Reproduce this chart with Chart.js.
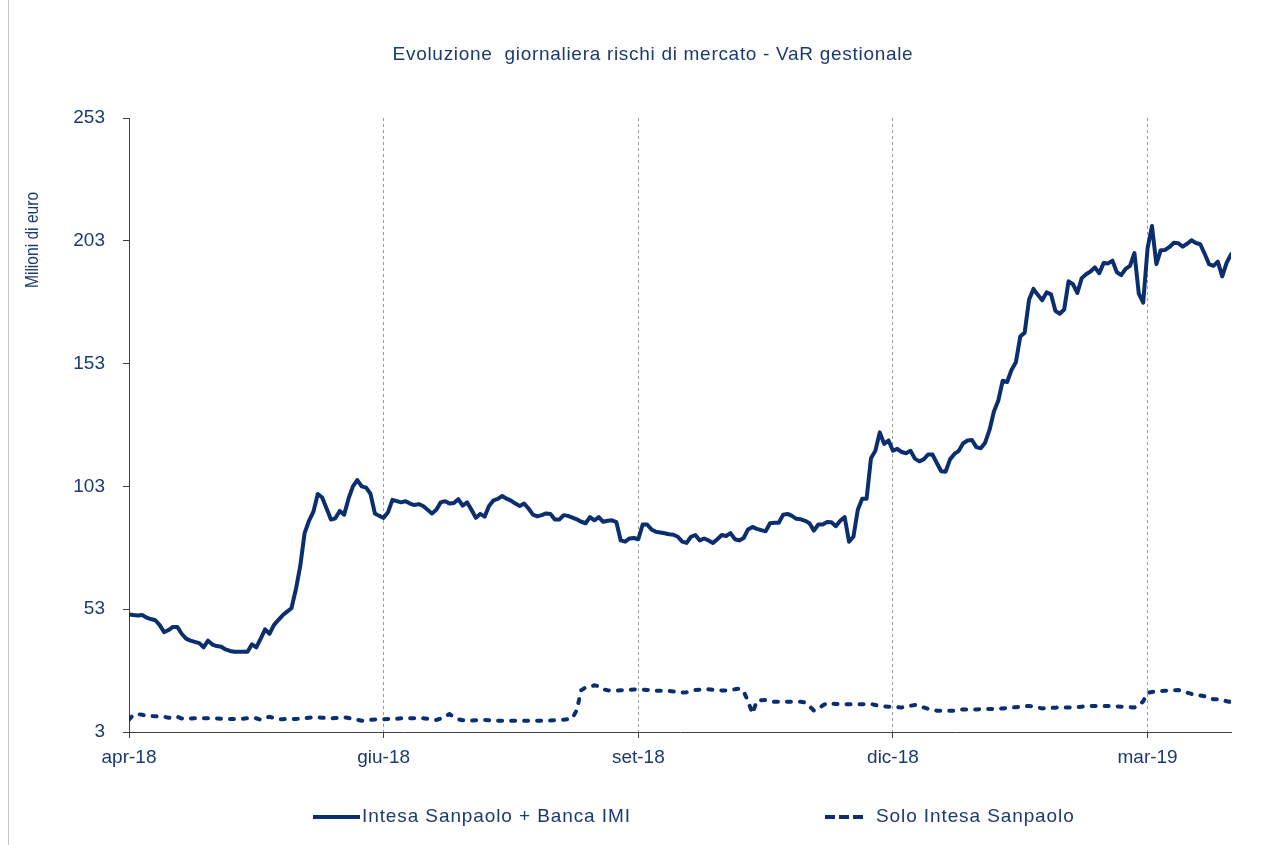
<!DOCTYPE html>
<html>
<head>
<meta charset="utf-8">
<script src="https://cdn.jsdelivr.net/npm/chart.js@4/dist/chart.umd.min.js"></script>
<style>
    html, body { margin: 0; padding: 0; background: #fff; }
    #wrap { position: relative; width: 1261px; height: 845px; overflow: hidden; }
    #frame { position: absolute; left: 8px; top: 0; width: 1251px; height: 845px; border-left: 1px solid #c8c8c8; }
    #varChart { position: absolute; left: 0; top: 0; }
    .txt { position: absolute; font-family: 'Liberation Sans', Arial, sans-serif; color: #1b3a6f; white-space: nowrap; }
    #title { left: 0; width: 1306px; text-align: center; top: 43px; font-size: 19px; letter-spacing: 0.7px; }
    .leg { top: 805px; font-size: 19px; letter-spacing: 0.9px; }
    .legLine { position: absolute; top: 815px; width: 47px; height: 4px; }
</style>
</head>
<body>
<div id="wrap">
    <div id="frame"></div>
    <canvas id="varChart" width="1261" height="845"></canvas>
    <div id="title" class="txt">Evoluzione&nbsp; giornaliera rischi di mercato - VaR gestionale</div>
    <div class="legLine" style="left:313px; background:#0a2e6e;"></div>
    <div class="txt leg" style="left:362px;">Intesa Sanpaolo + Banca IMI</div>
    <div class="legLine" style="left:825px; width:38px; background:repeating-linear-gradient(90deg, #0a2e6e 0 10px, transparent 10px 14px);"></div>
    <div class="txt leg" style="left:876px;">Solo Intesa Sanpaolo</div>
</div>
<script>
// tick positions (trading-day index) and their labels
const tickIdx = [0, 58, 116, 174, 232];
const tickLabels = ['apr-18', 'giu-18', 'set-18', 'dic-18', 'mar-19'];
const seriesNames = ['Intesa Sanpaolo + Banca IMI', 'Solo Intesa Sanpaolo'];

// VaR gestionale, milioni di euro
const varGruppo = [
    50.9, 50.6, 50.4, 50.6, 49.6, 49.0, 48.5, 46.5, 43.6, 44.5,
    45.8, 45.8, 43.0, 41.0, 40.2, 39.7, 39.2, 37.5, 40.2, 38.6,
    38.0, 37.7, 36.6, 36.0, 35.7, 35.7, 35.7, 35.7, 38.7, 37.5,
    41.0, 44.8, 43.0, 46.5, 48.6, 50.5, 52.0, 53.4, 61.0, 70.5,
    84.0, 89.0, 92.7, 99.9, 98.5, 94.0, 89.5, 90.0, 93.0, 91.5,
    98.0, 103.0, 105.6, 103.0, 102.5, 100.0, 92.0, 91.0, 90.2, 92.5,
    97.5, 97.0, 96.5, 97.0, 96.0, 95.4, 95.8, 95.0, 93.5, 92.0,
    93.5, 96.5, 97.0, 96.0, 96.2, 97.8, 95.2, 96.5, 93.5, 90.2,
    91.8, 90.7, 95.0, 97.3, 97.9, 99.1, 98.0, 97.2, 96.0, 95.0,
    96.0, 94.0, 91.5, 90.8, 91.3, 92.0, 91.8, 89.5, 89.5, 91.3,
    91.0, 90.3, 89.6, 88.6, 88.0, 90.5, 89.2, 90.5, 88.6, 89.0,
    89.2, 88.5, 81.0, 80.5, 81.8, 82.0, 81.5, 87.5, 87.5, 85.5,
    84.5, 84.2, 83.9, 83.5, 83.3, 82.5, 80.5, 80.0, 82.5, 83.2,
    81.0, 81.8, 81.0, 80.0, 81.5, 83.2, 82.8, 84.0, 81.5, 81.0,
    82.0, 85.5, 86.5, 85.7, 85.2, 84.7, 88.0, 88.2, 88.2, 91.5,
    91.8, 91.0, 89.8, 89.6, 89.0, 88.0, 85.0, 87.5, 87.5, 88.5,
    88.4, 86.8, 89.0, 90.5, 80.5, 82.5, 93.5, 98.0, 98.0, 114.5,
    117.5, 125.0, 120.3, 121.7, 117.5, 118.3, 117.0, 116.5, 117.5, 114.3,
    113.2, 114.0, 116.0, 116.0, 112.5, 109.2, 109.0, 114.0, 116.2, 117.5,
    120.6, 121.7, 121.9, 119.0, 118.5, 120.8, 126.0, 133.5, 138.0, 146.0,
    145.5, 150.4, 153.5, 164.0, 165.6, 179.0, 183.4, 181.0, 178.8, 182.0,
    181.2, 174.5, 173.3, 175.0, 186.5, 185.3, 181.8, 187.8, 189.4, 190.5,
    192.2, 189.8, 194.0, 193.8, 194.9, 190.2, 189.0, 191.6, 192.8, 198.0,
    181.5, 177.8, 200.0, 209.0, 193.5, 199.2, 199.3, 200.5, 202.2, 202.0,
    200.6, 201.8, 203.2, 202.1, 201.6, 197.7, 193.5, 192.8, 194.5, 188.5,
    194.0, 197.5
];

const varIsp = [
    8.0, 10.0, 10.3, 10.0, 9.6, 9.5, 9.4, 9.3, 9.2, 8.8,
    8.8, 9.2, 8.5, 8.3, 8.5, 8.6, 8.6, 8.6, 8.6, 8.6,
    8.5, 8.4, 8.3, 8.3, 8.3, 8.3, 8.4, 8.6, 8.8, 8.6,
    8.0, 8.6, 9.2, 8.7, 8.2, 8.2, 8.3, 8.3, 8.3, 8.4,
    8.6, 8.8, 9.0, 8.9, 8.8, 8.7, 8.6, 8.7, 8.8, 9.0,
    8.7, 8.3, 8.0, 7.6, 7.8, 8.0, 8.1, 8.2, 8.2, 8.3,
    8.3, 8.4, 8.6, 8.6, 8.6, 8.6, 8.6, 8.6, 8.4, 8.1,
    7.9, 8.5, 9.4, 10.3, 9.0, 8.2, 7.8, 7.6, 7.7, 7.8,
    7.9, 7.9, 7.8, 7.7, 7.6, 7.6, 7.6, 7.6, 7.6, 7.6,
    7.6, 7.6, 7.6, 7.6, 7.6, 7.7, 7.7, 7.8, 7.9, 8.0,
    8.2, 8.6, 12.0, 20.0, 21.2, 21.5, 22.0, 21.6, 20.4, 20.0,
    19.8, 19.9, 20.0, 20.1, 20.2, 20.3, 20.4, 20.3, 20.1, 19.9,
    19.8, 19.8, 19.8, 19.7, 19.5, 19.3, 19.1, 19.2, 19.7, 20.1,
    20.2, 20.3, 20.4, 20.2, 20.0, 19.9, 19.9, 20.1, 20.4, 20.7,
    19.5, 15.5, 10.5, 15.7, 15.9, 16.0, 15.6, 15.3, 15.3, 15.3,
    15.3, 15.3, 15.3, 15.3, 15.0, 13.5, 11.7, 12.5, 13.8, 14.8,
    14.6, 14.4, 14.4, 14.3, 14.3, 14.3, 14.3, 14.3, 14.4, 14.4,
    14.0, 13.6, 13.4, 13.3, 13.2, 13.1, 13.0, 13.3, 13.7, 14.0,
    13.6, 13.0, 12.4, 11.9, 11.7, 11.7, 11.7, 11.7, 11.7, 12.0,
    12.2, 12.2, 12.2, 12.2, 12.3, 12.3, 12.4, 12.4, 12.5, 12.6,
    12.8, 13.0, 13.1, 13.3, 13.5, 13.6, 13.3, 13.0, 12.6, 12.7,
    12.8, 12.9, 13.0, 13.0, 13.0, 13.0, 13.1, 13.3, 13.5, 13.6,
    13.6, 13.6, 13.6, 13.6, 13.5, 13.4, 13.3, 13.2, 13.1, 13.0,
    13.8, 15.5, 19.0, 19.3, 19.5, 19.6, 19.8, 19.9, 20.0, 20.1,
    19.6, 19.0, 18.5, 18.1, 17.9, 17.5, 16.9, 16.3, 16.3, 16.2,
    15.5, 15.2
];

const days = varGruppo.map((_, i) => i);

const navy = '#0a2e6e';
const textNavy = '#1b3a6f';
const fontFamily = "'Liberation Sans', Arial, sans-serif";

// y axis title sits in the upper part of the axis, not centred
const yTitlePlugin = {
    id: 'yTitle',
    afterDraw(chart) {
        const ctx = chart.ctx;
        ctx.save();
        ctx.translate(33, chart.chartArea.top + 122);
        ctx.rotate(-Math.PI / 2);
        ctx.scale(0.82, 1);
        ctx.fillStyle = textNavy;
        ctx.font = '19px ' + fontFamily;
        ctx.textAlign = 'center';
        ctx.textBaseline = 'middle';
        ctx.fillText('Milioni di euro', 0, 0);
        ctx.restore();
    }
};

const ctx = document.getElementById('varChart').getContext('2d');
new Chart(ctx, {
    type: 'line',
    data: {
        labels: days,
        datasets: [{
            label: seriesNames[0],
            data: varGruppo,
            borderColor: navy,
            borderWidth: 4,
            pointRadius: 0,
            tension: 0,
            borderJoinStyle: 'round',
            borderCapStyle: 'round'
        }, {
            label: seriesNames[1],
            data: varIsp,
            borderColor: navy,
            borderWidth: 4,
            borderDash: [4, 9],
            borderCapStyle: 'round',
            pointRadius: 0,
            tension: 0
        }]
    },
    options: {
        responsive: false,
        animation: false,
        events: [],
        layout: {
            padding: { left: 0, right: 30, top: 118, bottom: 63 }
        },
        plugins: {
            legend: { display: false },
            tooltip: { enabled: false },
            title: { display: false }
        },
        scales: {
            x: {
                type: 'linear',
                min: 0,
                max: days.length - 1,
                afterBuildTicks: (scale) => {
                    scale.ticks = tickIdx.map(v => ({ value: v }));
                },
                afterFit: (scale) => { scale.height = 50; },
                ticks: {
                    autoSkip: false,
                    maxRotation: 0,
                    padding: 8,
                    color: textNavy,
                    font: { size: 19, family: fontFamily },
                    callback: (v) => {
                        const k = tickIdx.indexOf(v);
                        return k >= 0 ? tickLabels[k] : '';
                    }
                },
                grid: {
                    color: '#9a9a9a',
                    lineWidth: 1,
                    drawTicks: true,
                    tickLength: 6,
                    tickColor: '#404040',
                    tickBorderDash: []
                },
                border: {
                    display: true,
                    color: '#404040',
                    width: 1,
                    dash: [3, 3]
                }
            },
            y: {
                min: 3,
                max: 253,
                afterFit: (scale) => { scale.width = 129; },
                ticks: {
                    stepSize: 50,
                    padding: 18,
                    color: textNavy,
                    font: { size: 19, family: fontFamily }
                },
                grid: {
                    drawOnChartArea: false,
                    drawTicks: true,
                    tickLength: 6,
                    tickColor: '#404040'
                },
                border: {
                    display: true,
                    color: '#404040',
                    width: 1
                }
            }
        }
    },
    plugins: [yTitlePlugin]
});
</script>
</body>
</html>
